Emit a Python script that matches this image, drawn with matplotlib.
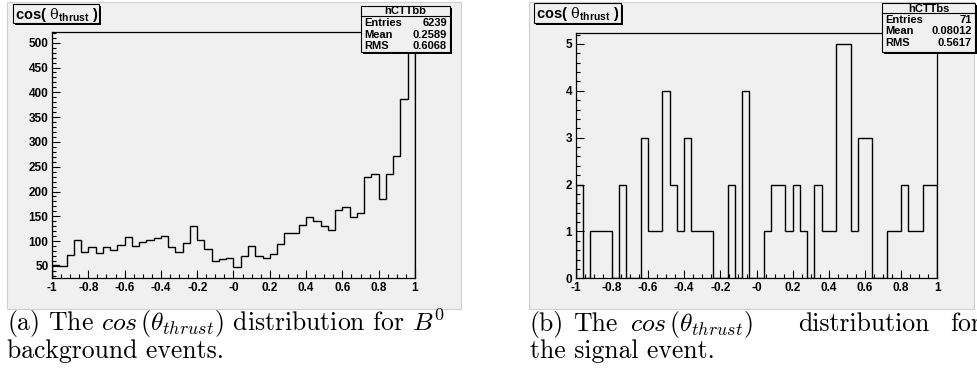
import numpy as np
import matplotlib
matplotlib.use('Agg')
import matplotlib.pyplot as plt
from matplotlib.patches import Rectangle
from matplotlib.ticker import MultipleLocator, FixedLocator, FixedFormatter

plt.rcParams['font.family'] = ['Liberation Sans', 'DejaVu Sans']
plt.rcParams['mathtext.fontset'] = 'custom'
plt.rcParams['mathtext.rm'] = 'Liberation Sans:bold'
plt.rcParams['mathtext.bf'] = 'Liberation Sans:bold'
plt.rcParams['mathtext.it'] = 'DejaVu Serif'

# histogram binning (ROOT style, 50 bins from -1 to 1)
nbins = 50
x_lo, x_hi = -1.0, 1.0

# hCTTbb : background
bkg_counts = [51, 49, 73, 103, 78, 89, 76, 89, 83, 93,
              108, 90, 99, 102, 107, 111, 89, 78, 97, 130,
              102, 84, 59, 65, 67, 47, 71, 91, 71, 67,
              75, 95, 116, 116, 132, 148, 141, 130, 123, 162,
              169, 148, 156, 230, 235, 184, 235, 271, 387, 590]
bkg_stats = [('Entries', '6239'), ('Mean', '0.2589'), ('RMS', '0.6068')]

# hCTTbs : signal
sig_counts = [2, 0, 1, 1, 1, 0, 2, 0, 0, 3,
              1, 1, 4, 2, 1, 3, 1, 1, 1, 0,
              0, 2, 0, 4, 0, 0, 1, 2, 2, 1,
              2, 1, 0, 2, 1, 1, 5, 5, 1, 3,
              3, 0, 0, 1, 1, 2, 1, 1, 2, 2]
sig_stats = [('Entries', '71'), ('Mean', '0.08012'), ('RMS', '0.5617')]

x_ticks = [-1, -0.8, -0.6, -0.4, -0.2, 0, 0.2, 0.4, 0.6, 0.8, 1]
x_ticklabels = ['-1', '-0.8', '-0.6', '-0.4', '-0.2', '-0',
                '0.2', '0.4', '0.6', '0.8', '1']

cos_math = r'$cos\,(\theta_{thrust})$'
caption_a = r'(a) The ' + cos_math + r' distribution for $B^0$'
caption_b = ['(b)', 'The', cos_math, 'distribution', 'for']

W, H = 977, 390
GRAY = '#f0f0f0'
fig = plt.figure(figsize=(W / 100, H / 100), dpi=100)


def fbox(x0, y0, x1, y1, **kw):
    # rectangle given in pixel coords (origin top-left)
    r = Rectangle((x0 / W, 1 - y1 / H), (x1 - x0) / W, (y1 - y0) / H,
                  transform=fig.transFigure, **kw)
    fig.patches.append(r)
    return r


def ftext(x, y, s, **kw):
    return fig.text(x / W, 1 - y / H, s, **kw)


def pave(x0, y0, x1, y1):
    fbox(x0 + 2, y0 + 2, x1 + 2, y1 + 2, facecolor='black', edgecolor='none', zorder=5)
    fbox(x0, y0, x1, y1, facecolor=GRAY, edgecolor='black', lw=0.8, zorder=6)


def panel(px0, px1, ax_rect, counts, ylim, ymajor, yminor, name, stats, sbox, tbox):
    fbox(px0, 2, px1, 309, facecolor=GRAY, edgecolor='#d0d0d0', lw=0.8, zorder=-1)
    x0, y0, x1, y1 = ax_rect
    ax = fig.add_axes([x0 / W, 1 - y1 / H, (x1 - x0) / W, (y1 - y0) / H])
    ax.set_zorder(1)
    ax.set_facecolor(GRAY)
    edges = np.linspace(x_lo, x_hi, nbins + 1)
    ax.stairs(counts, edges, color='black', lw=1.0)
    ax.set_xlim(x_lo, x_hi)
    ax.set_ylim(*ylim)
    ax.xaxis.set_major_locator(FixedLocator(x_ticks))
    ax.xaxis.set_major_formatter(FixedFormatter(x_ticklabels))
    ax.xaxis.set_minor_locator(MultipleLocator(0.05))
    ax.yaxis.set_major_locator(MultipleLocator(ymajor))
    ax.yaxis.set_minor_locator(MultipleLocator(yminor))
    ax.tick_params(which='both', direction='in', top=False, right=False,
                   width=0.8, labelsize=8.5)
    ax.tick_params(which='major', length=5.5)
    ax.tick_params(which='minor', length=3)
    ax.tick_params(axis='x', pad=3)
    ax.tick_params(axis='y', pad=2.5)
    for lab in ax.get_xticklabels() + ax.get_yticklabels():
        lab.set_fontweight('bold')
    for sp in ax.spines.values():
        sp.set_linewidth(0.9)

    # title pave
    pave(*tbox)
    ftext(tbox[0] + 2.5, (tbox[1] + tbox[3]) / 2 + 1,
          r'$\mathbf{cos(}\ \theta_{\mathbf{thrust}}\ \mathbf{)}$',
          fontsize=10.5, va='center', ha='left', zorder=7)

    # stats pave
    sx0, sy0, sx1, sy1 = sbox
    pave(sx0, sy0, sx1, sy1)
    hy = sy0 + 10
    fig.lines.append(plt.Line2D([sx0 / W, sx1 / W], [1 - hy / H, 1 - hy / H],
                                transform=fig.transFigure, color='black',
                                lw=0.8, zorder=7))
    ftext((sx0 + sx1) / 2, sy0 + 5.5, name, fontsize=8, fontweight='bold',
          ha='center', va='center', zorder=7)
    for i, (k, v) in enumerate(stats):
        yy = hy + 7 + i * 11.5
        ftext(sx0 + 3, yy, k, fontsize=8, fontweight='bold', ha='left',
              va='center', zorder=7)
        ftext(sx1 - 3, yy, v, fontsize=8, fontweight='bold', ha='right',
              va='center', zorder=7)
    return ax


panel(7, 461, (52, 32.3, 415, 278), bkg_counts, (25.7, 521), 50, 10,
      'hCTTbb', bkg_stats, (361, 6, 450, 52), (12.7, 4, 99, 23))
panel(529, 974, (575.7, 32.7, 937.3, 278.3), sig_counts, (0, 5.24), 1, 0.2,
      'hCTTbs', sig_stats, (882, 3, 975, 52), (534, 3, 621, 23))

# captions; (b) is justified in the source and runs off the right edge
cap = dict(family='cmr10', math_fontfamily='cm', fontsize=18.5, va='baseline', ha='left')
ftext(7, 331, caption_a, **cap)
ftext(7, 358, 'background events.', **cap)
for xw, word in zip([530, 573, 630, 798, 950], caption_b):
    ftext(xw, 331, word, **cap)
ftext(530, 358, 'the signal event.', **cap)

fig.savefig('out.png', dpi=100)
